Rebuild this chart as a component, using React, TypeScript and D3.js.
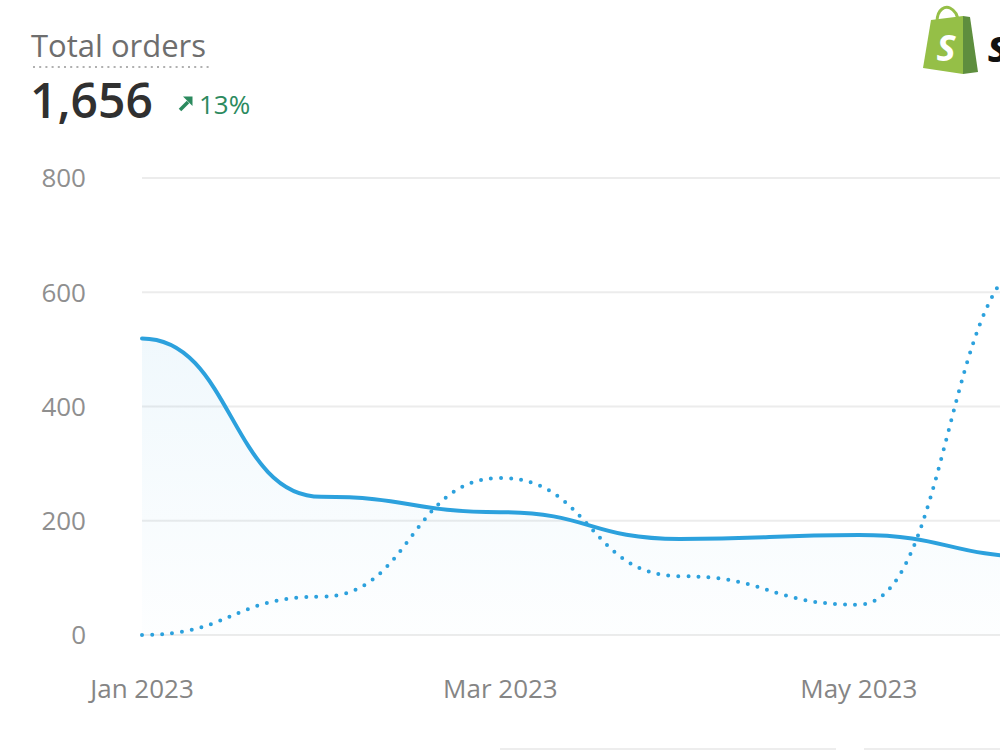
import React from 'react';
import * as d3 from 'd3';

// monthly order counts
const months = ['Jan 2023', 'Feb 2023', 'Mar 2023', 'Apr 2023', 'May 2023', 'Jun 2023'];
const currentOrders = [519, 242, 215, 168, 175, 137];
const previousOrders = [0, 67, 275, 103, 53, 660];
const xTickLabels = ['Jan 2023', 'Mar 2023', 'May 2023'];
const yTicks = [0, 200, 400, 600, 800];

const LINE = '#2ca1dd';
const FONT = '"Open Sans", "Noto Sans", sans-serif';

export default function App() {
  const width = 1000;
  const height = 750;

  const xScale = d3.scalePoint<string>().domain(months).range([142, 1038]);
  const yScale = d3.scaleLinear().domain([0, 800]).range([635, 178]);

  const line = d3
    .line<number>()
    .x((_, i) => xScale(months[i]) ?? 0)
    .y((d) => yScale(d))
    .curve(d3.curveBumpX);

  const area = d3
    .area<number>()
    .x((_, i) => xScale(months[i]) ?? 0)
    .y0(yScale(0))
    .y1((d) => yScale(d))
    .curve(d3.curveBumpX);

  return (
    <svg
      width={width}
      height={height}
      style={{ position: 'absolute', left: 0, top: 0, background: '#fff' }}
      fontFamily={FONT}
    >
      <defs>
        <linearGradient id="areaFill" gradientUnits="userSpaceOnUse" x1="0" y1={yScale(520)} x2="0" y2={yScale(0)}>
          <stop offset="0%" stopColor={LINE} stopOpacity={0.07} />
          <stop offset="100%" stopColor={LINE} stopOpacity={0.01} />
        </linearGradient>
      </defs>

      {/* header */}
      <text x={31} y={57} fontSize={31} fill="#6e6e6e">Total orders</text>
      <line x1={33} x2={210} y1={67} y2={67} stroke="#b0b0b0" strokeWidth={2} strokeDasharray="2 4.2" />
      <text x={30} y={118} fontSize={48} fontWeight={600} fill="#303030">1,656</text>
      <line x1={180} y1={110} x2={188} y2={102} stroke="#2b8a5e" strokeWidth={3.5} />
      <polygon points="192.5,96.5 192.5,106 183,96.5" fill="#2b8a5e" />
      <text x={199} y={114} fontSize={26} fill="#2b8a5e">13%</text>

      {/* shopify logo, cut off at the right edge like the source */}
      <g>
        <path d="M937,22 C937,8 946,6 950,8 C954,10 958,14 958,22" fill="none" stroke="#95bf47" strokeWidth={3} />
        <path d="M931,20 L963,16 L963,74 L923,68 Z" fill="#95bf47" />
        <path d="M963,16 L970,17 L978,72 L963,74 Z" fill="#5e8e3e" />
        <text x={946} y={61} fontSize={36} fontWeight={700} fontStyle="italic" fill="#fff" textAnchor="middle">S</text>
        <text x={988} y={62} fontSize={44} fontWeight={700} fontStyle="italic" fill="#111">s</text>
      </g>

      {/* grid + y axis */}
      {yTicks.map((t) => (
        <g key={t}>
          <line x1={142} x2={1040} y1={yScale(t)} y2={yScale(t)} stroke="#ececec" strokeWidth={2} />
          <text x={86} y={yScale(t)} dy="0.36em" fontSize={26} fill="#8f8f8f" textAnchor="end">
            {t}
          </text>
        </g>
      ))}

      {/* x axis labels */}
      {xTickLabels.map((m) => (
        <text key={m} x={xScale(m)} y={698} fontSize={26} fill="#858585" textAnchor="middle">
          {m}
        </text>
      ))}

      {/* series */}
      <path d={area(currentOrders) ?? ''} fill="url(#areaFill)" />
      <path
        d={line(previousOrders) ?? ''}
        fill="none"
        stroke={LINE}
        strokeWidth={4}
        strokeLinecap="round"
        strokeDasharray="0 10"
      />
      <path d={line(currentOrders) ?? ''} fill="none" stroke={LINE} strokeWidth={4} strokeLinecap="round" />

      {/* faint panel edges at bottom */}
      <line x1={500} x2={836} y1={749} y2={749} stroke="#ededed" strokeWidth={2} />
      <line x1={864} x2={1000} y1={749} y2={749} stroke="#ededed" strokeWidth={2} />
    </svg>
  );
}
